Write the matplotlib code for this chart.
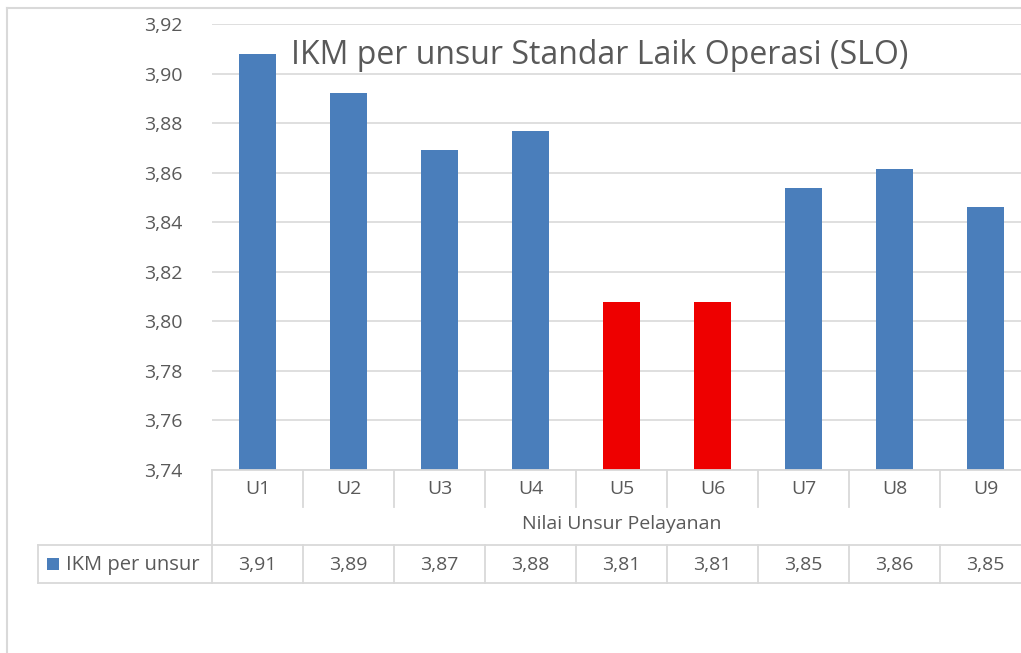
import numpy as np
import matplotlib
matplotlib.use("Agg")
import matplotlib.pyplot as plt
from matplotlib.ticker import FuncFormatter, MultipleLocator
from matplotlib.transforms import blended_transform_factory
from matplotlib.lines import Line2D
from matplotlib.patches import Rectangle

plt.rcParams['font.family'] = ['Open Sans', 'DejaVu Sans']

# data
categories = ["U1", "U2", "U3", "U4", "U5", "U6", "U7", "U8", "U9"]
ikm_values = [3.9077, 3.8923, 3.8692, 3.8769, 3.8077, 3.8077, 3.8538, 3.8615, 3.8462]
highlight = ["U5", "U6"]
series_name = "IKM per unsur"
title = "IKM per unsur Standar Laik Operasi (SLO)"
xlabel = "Nilai Unsur Pelayanan"

blue = "#4a7ebb"
red = "#ee0000"
grid_col = "#d9d9d9"
text_col = "#595959"

W, H = 1021, 653
fig = plt.figure(figsize=(W / 100, H / 100), dpi=100)

def fx(px):
    return px / W

def fy(py):
    return 1 - py / H

# plot area, the right end runs past the picture like in the reference
left_px, right_px, top_px, bot_px = 212, 1031, 24, 470
ax = fig.add_axes([fx(left_px), fy(bot_px), fx(right_px - left_px), (bot_px - top_px) / H])

x = np.arange(len(categories))
colors = [red if c in highlight else blue for c in categories]
ax.bar(x, ikm_values, width=0.40, color=colors, zorder=3)

ax.set_xlim(-0.5, len(categories) - 0.5)
ax.set_ylim(3.74, 3.92)
ax.yaxis.set_major_locator(MultipleLocator(0.02))
ax.yaxis.set_major_formatter(FuncFormatter(lambda v, p: ("%.2f" % v).replace(".", ",")))
ax.tick_params(axis="y", length=0, pad=21, labelsize=14, labelcolor=text_col)
ax.set_xticks([])
ax.grid(axis="y", color=grid_col, lw=1.2, zorder=0)
for s in ax.spines.values():
    s.set_visible(False)

# title inside the plot area
fig.text(fx(600), fy(56), title, ha="center", va="center", fontsize=23, color=text_col)

# data table under the axis
trans = fig.transFigure
line_kw = dict(color=grid_col, lw=1.3, transform=trans)
fig.add_artist(Line2D([fx(left_px), 1.0], [fy(bot_px)] * 2, **line_kw))
row1_bot = 507
row2_top, row2_bot = 545, 583
tbl_left = 38
fig.add_artist(Line2D([fx(tbl_left), 1.0], [fy(row2_top)] * 2, **line_kw))
fig.add_artist(Line2D([fx(tbl_left), 1.0], [fy(row2_bot)] * 2, **line_kw))
fig.add_artist(Line2D([fx(left_px)] * 2, [fy(bot_px), fy(row2_bot)], **line_kw))
fig.add_artist(Line2D([fx(tbl_left)] * 2, [fy(row2_top), fy(row2_bot)], **line_kw))

xt = blended_transform_factory(ax.transData, trans)
for i in range(1, len(categories)):
    ax.add_artist(Line2D([i - 0.5] * 2, [fy(bot_px), fy(row1_bot)], color=grid_col, lw=1.3,
                         transform=xt, clip_on=False))
    ax.add_artist(Line2D([i - 0.5] * 2, [fy(row2_top), fy(row2_bot)], color=grid_col, lw=1.3,
                         transform=xt, clip_on=False))

for i, (c, v) in enumerate(zip(categories, ikm_values)):
    ax.text(i, fy((bot_px + row1_bot) / 2 + 1), c, transform=xt, ha="center", va="center",
            fontsize=14, color=text_col, clip_on=False)
    ax.text(i, fy((row2_top + row2_bot) / 2 + 1), ("%.2f" % v).replace(".", ","), transform=xt,
            ha="center", va="center", fontsize=14, color=text_col, clip_on=False)

fig.text(fx(622), fy(524), xlabel, ha="center", va="center", fontsize=14, color=text_col)

# legend key in the table
fig.add_artist(Rectangle((fx(47), fy(570)), fx(12), 12 / H, facecolor=blue, edgecolor="none",
                         transform=trans))
fig.text(fx(66), fy(565), series_name, ha="left", va="center", fontsize=14.5, color=text_col)

# chart area border
fig.add_artist(Line2D([fx(7)] * 2, [fy(8), 0.0], color=grid_col, lw=1.5, transform=trans))
fig.add_artist(Line2D([fx(7), 1.0], [fy(8)] * 2, color=grid_col, lw=1.5, transform=trans))

fig.savefig("out.png", dpi=100)
